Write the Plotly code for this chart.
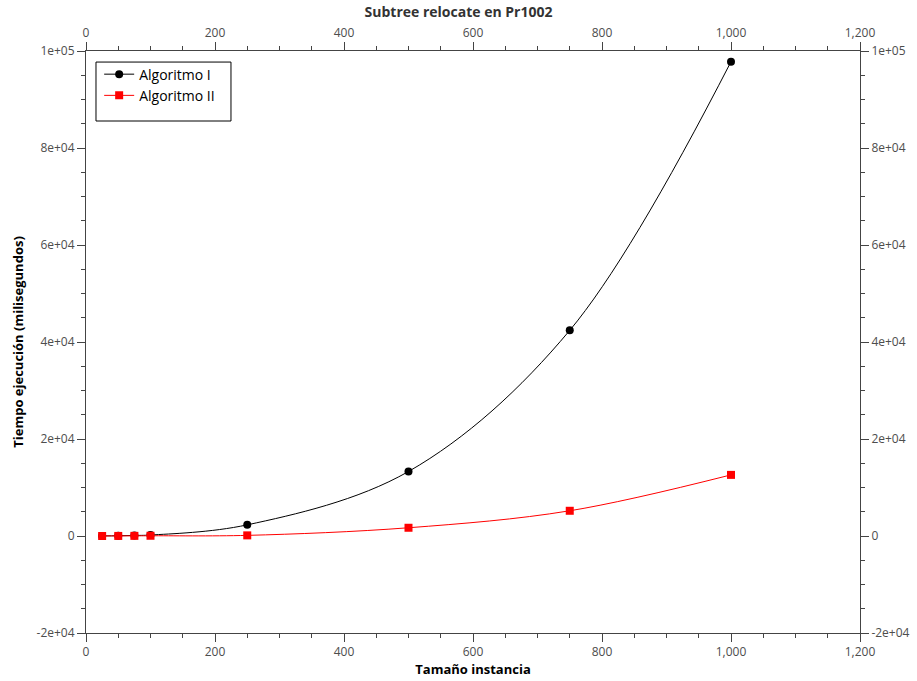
import plotly.graph_objects as go

sizes = [25, 50, 75, 100, 250, 500, 750, 1000]
alg1 = [20, 60, 120, 200, 2300, 13300, 42400, 97800]
alg2 = [5, 15, 30, 50, 130, 1700, 5200, 12600]
y_ticks = [-20000, 0, 20000, 40000, 60000, 80000, 100000]
y_labels = ["-2e+04", "0", "2e+04", "4e+04", "6e+04", "8e+04", "1e+05"]
x_ticks = [0, 200, 400, 600, 800, 1000, 1200]
x_labels = ["0", "200", "400", "600", "800", "1,000", "1,200"]

FONT = "Open Sans"
TICKC = "#4d4d4d"

fig = go.Figure()
fig.add_trace(go.Scatter(x=sizes, y=alg1, name="Algoritmo I", mode="lines+markers",
                         line=dict(color="black", width=1, shape="spline"),
                         marker=dict(symbol="circle", size=8, color="black")))
fig.add_trace(go.Scatter(x=sizes, y=alg2, name="Algoritmo II", mode="lines+markers",
                         line=dict(color="red", width=1, shape="spline"),
                         marker=dict(symbol="square", size=8, color="red")))
fig.add_trace(go.Scatter(x=[], y=[], xaxis="x2", yaxis="y2", showlegend=False, hoverinfo="skip"))

xr = [0, 1200]
yr = [-20000, 100000]
common = dict(showgrid=False, zeroline=False, showline=True, linecolor="#444", linewidth=1,
              ticks="outside", ticklen=8, tickcolor="#444", automargin=False,
              tickfont=dict(family=FONT, size=12, color=TICKC))

fig.update_layout(
    width=917, height=681,
    paper_bgcolor="white", plot_bgcolor="white",
    margin=dict(l=86, r=57, t=51, b=48),
    title=dict(text="<b>Subtree relocate en Pr1002</b>", x=0.5, xanchor="center",
               yref="container", y=0.989, yanchor="top", font=dict(family=FONT, size=14, color="#333")),
    xaxis=dict(range=xr, tickvals=x_ticks, ticktext=x_labels,
               minor=dict(dtick=50, tick0=0, ticklen=4, ticks="outside", tickcolor="#444"),
               title=dict(text="<b>Tamaño instancia</b>", font=dict(family=FONT, size=13, color="black"), standoff=2),
               **common),
    yaxis=dict(range=yr, tickvals=y_ticks, ticktext=y_labels,
               minor=dict(dtick=5000, tick0=0, ticklen=4, ticks="outside", tickcolor="#444"),
               title=dict(text="<b>Tiempo ejecución (milisegundos)</b>", font=dict(family=FONT, size=13, color="black"), standoff=10),
               **common),
    xaxis2=dict(range=xr, tickvals=x_ticks, ticktext=x_labels, overlaying="x", side="top", anchor="y2",
                minor=dict(dtick=50, tick0=0, ticklen=4, ticks="outside", tickcolor="#444"),
                **common),
    yaxis2=dict(range=yr, tickvals=y_ticks, ticktext=y_labels, overlaying="y", side="right", anchor="x2",
                minor=dict(dtick=5000, tick0=0, ticklen=4, ticks="outside", tickcolor="#444"),
                **common),
    legend=dict(x=0.017, y=0.987, xanchor="left", yanchor="top", bgcolor="rgba(0,0,0,0)",
                borderwidth=0, font=dict(family=FONT, size=14, color="black"),
                itemwidth=30, tracegroupgap=0),
    shapes=[dict(type="rect", xref="paper", yref="paper", x0=0.0129, x1=0.1873, y0=0.8797, y1=0.981,
                 line=dict(color="black", width=1), fillcolor="rgba(0,0,0,0)", layer="above")],
    showlegend=True,
)

fig.write_html("out.html", config={"displayModeBar": False},
               post_script="document.body.style.margin='0';document.body.style.overflow='hidden';")
